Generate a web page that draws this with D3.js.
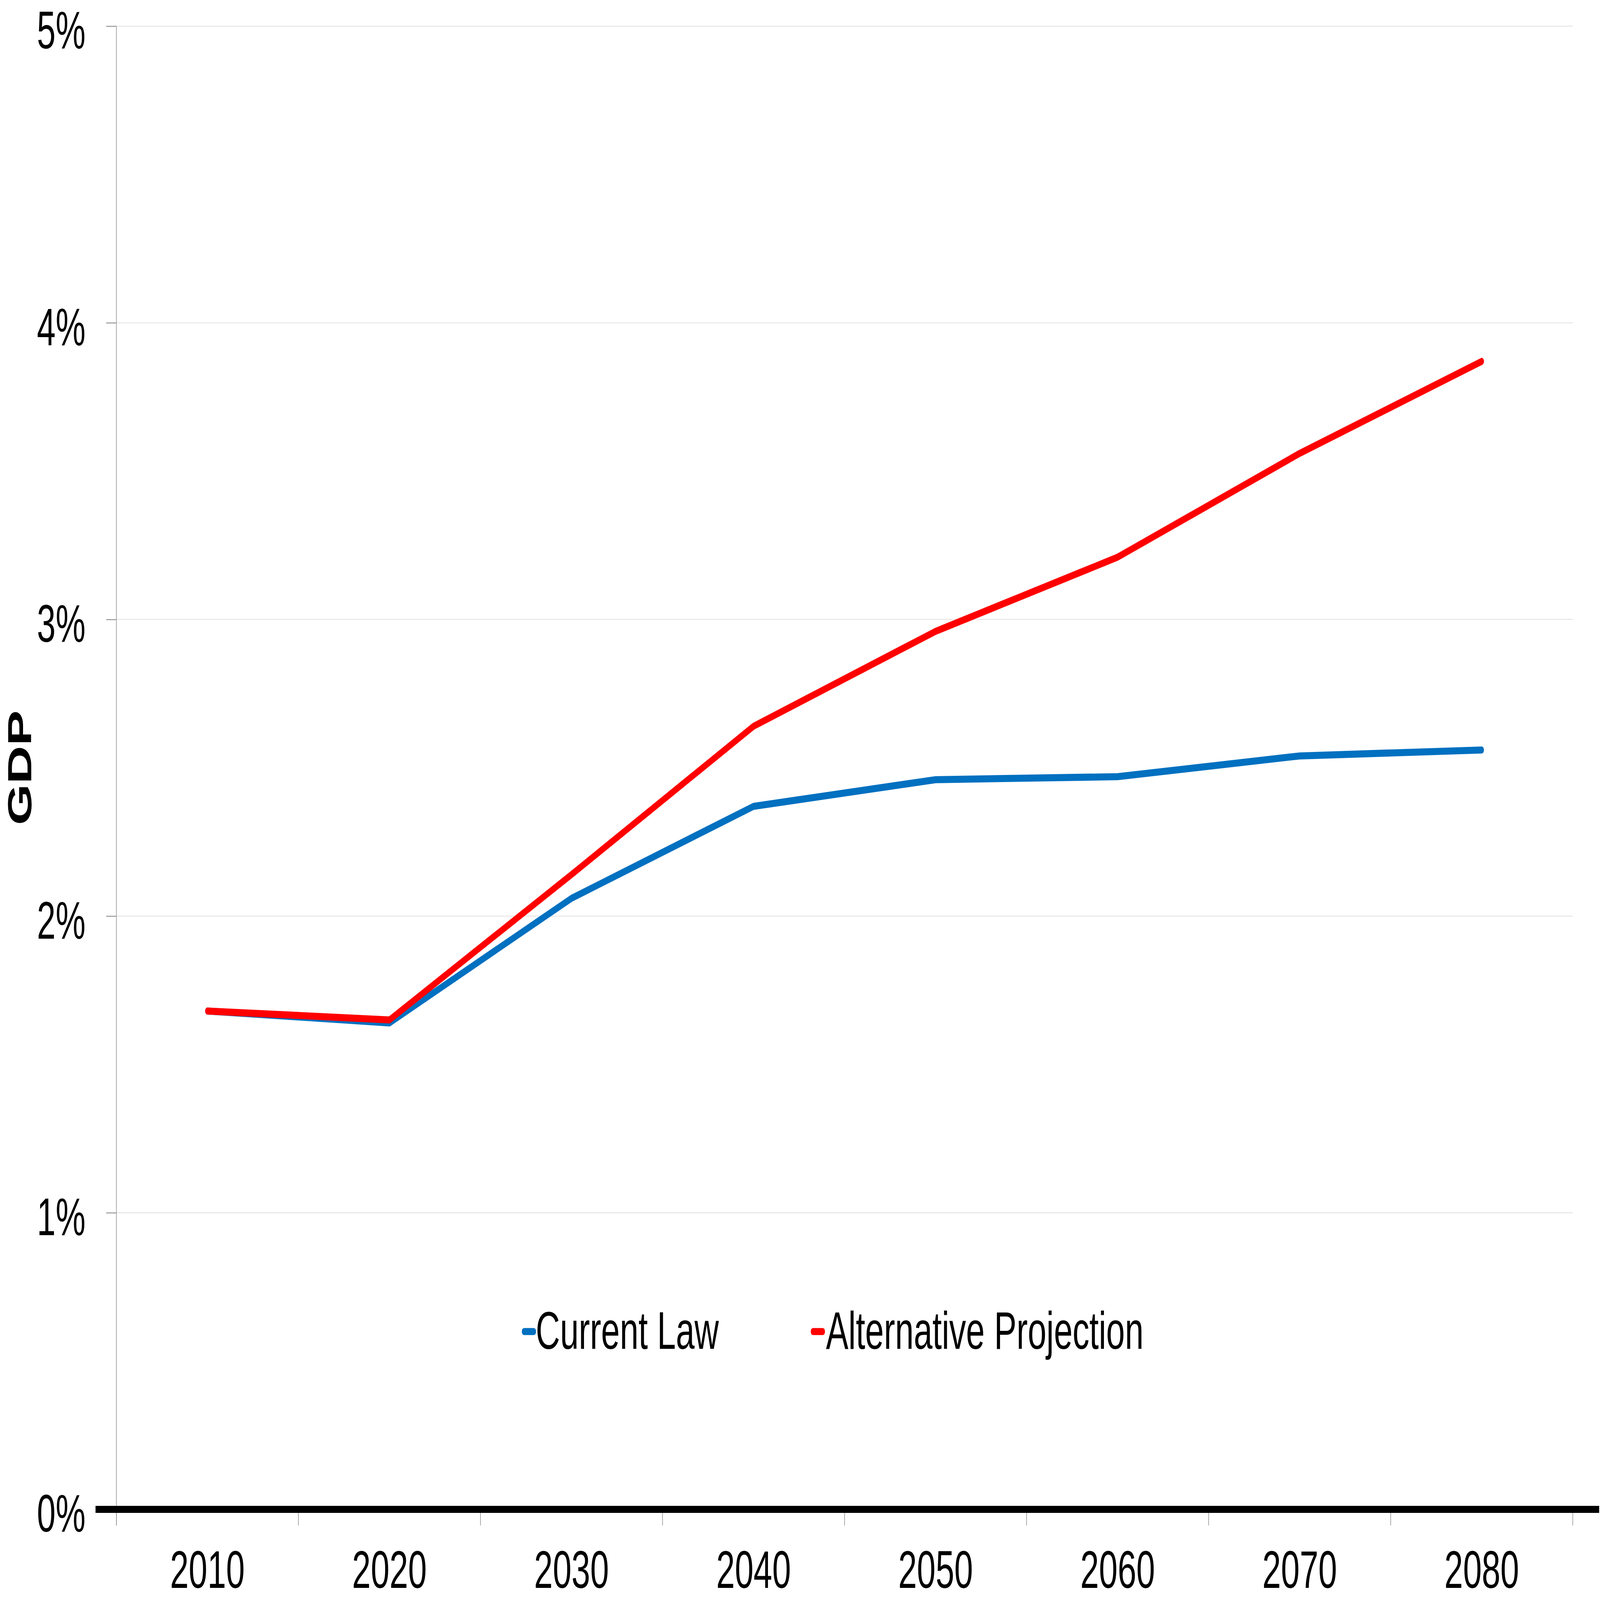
<!DOCTYPE html>
<html>
<head>
<meta charset="utf-8">
<script src="https://cdn.jsdelivr.net/npm/d3@7"></script>
<style>
  html, body { margin: 0; padding: 0; width: 100%; height: 100%; overflow: hidden; background: #fff; }
  svg { display: block; width: 100vw; height: 100vh; }
</style>
</head>
<body>
<svg></svg>
<script>
// years on the category axis
const years = ['2010', '2020', '2030', '2040', '2050', '2060', '2070', '2080']
// percent of GDP
const currentLaw = [1.68, 1.64, 2.06, 2.37, 2.46, 2.47, 2.54, 2.56]
const alternative = [1.68, 1.65, 2.14, 2.64, 2.96, 3.21, 3.56, 3.87]
const yTicks = [0, 1, 2, 3, 4, 5]
const seriesNames = ['Current Law', 'Alternative Projection']
const seriesColors = ['#0070C0', '#FF0000']

drawChart()

function drawChart() {
    let svgWidth = 7520, svgHeight = 4768
    let left = 547, right = 7392, top = 78, bottom = 4498
    let font = 'Arial, "Liberation Sans", sans-serif'

    // fixed coordinate system, scaled to whatever the window is
    let svg = d3.select('svg')
        .attr('viewBox', '0 0 ' + svgWidth + ' ' + svgHeight)
        .attr('preserveAspectRatio', 'none')

    let x = d3.scaleBand()
        .domain(years)
        .range([left, right])
    let y = d3.scaleLinear()
        .domain([0, 5])
        .range([bottom, top])

    // light gridlines
    svg.append('g')
        .selectAll('line')
        .data(yTicks.filter(d => d > 0))
        .enter().append('line')
        .attr('x1', left)
        .attr('x2', right)
        .attr('y1', d => y(d))
        .attr('y2', d => y(d))
        .attr('stroke', '#e6e6e6')
        .attr('stroke-width', 3)

    // y axis with outside ticks
    let yAxis = svg.append('g')
        .attr('transform', 'translate(' + left + ',0)')
        .call(d3.axisLeft(y).tickValues(yTicks).tickSize(48).tickPadding(97).tickFormat(d => d + '%'))
    yAxis.select('.domain').remove()
    yAxis.selectAll('.tick line')
        .attr('stroke', '#999')
        .attr('stroke-width', 3)
    yAxis.selectAll('.tick text')
        .attr('font-family', font)
        .attr('font-size', 158)
        .attr('fill', '#000')
        .attr('dy', '0.42em')
    svg.append('line')
        .attr('x1', left).attr('x2', left)
        .attr('y1', top).attr('y2', 4546)
        .attr('stroke', '#999')
        .attr('stroke-width', 3)

    // tick marks between categories
    let bounds = years.map(d => x(d)).concat([right])
    svg.append('g')
        .selectAll('line')
        .data(bounds)
        .enter().append('line')
        .attr('x1', d => d).attr('x2', d => d)
        .attr('y1', bottom).attr('y2', 4546)
        .attr('stroke', '#999')
        .attr('stroke-width', 3)

    // thick zero line
    svg.append('line')
        .attr('x1', 449).attr('x2', 7516)
        .attr('y1', bottom).attr('y2', bottom)
        .attr('stroke', '#000')
        .attr('stroke-width', 21)

    // category labels
    let xAxis = svg.append('g')
        .attr('transform', 'translate(0,' + bottom + ')')
        .call(d3.axisBottom(x).tickSize(0).tickPadding(122))
    xAxis.select('.domain').remove()
    xAxis.selectAll('.tick text')
        .attr('font-family', font)
        .attr('font-size', 158)
        .attr('fill', '#000')

    // axis title
    svg.append('text')
        .attr('transform', 'translate(147,2288) rotate(-90)')
        .attr('text-anchor', 'middle')
        .attr('font-family', font)
        .attr('font-size', 158)
        .attr('font-weight', 'bold')
        .text('GDP')

    let line = d3.line()
        .x((d, i) => x(years[i]) + x.bandwidth() / 2)
        .y(d => y(d))

    ;[currentLaw, alternative].forEach(function(values, i) {
        svg.append('path')
            .datum(values)
            .attr('fill', 'none')
            .attr('stroke', seriesColors[i])
            .attr('stroke-width', 21)
            .attr('stroke-linejoin', 'round')
            .attr('stroke-linecap', 'round')
            .attr('d', line)
    })

    // legend
    let legendX = [2463, 3821]
    seriesNames.forEach(function(name, i) {
        let g = svg.append('g')
            .attr('transform', 'translate(' + legendX[i] + ',3968)')
        g.append('line')
            .attr('x1', 0).attr('x2', 46)
            .attr('stroke', seriesColors[i])
            .attr('stroke-width', 21)
            .attr('stroke-linecap', 'round')
        g.append('text')
            .attr('x', i == 0 ? 55 : 61)
            .attr('y', 51)
            .attr('font-family', font)
            .attr('font-size', 158)
            .attr('fill', '#000')
            .text(name)
    })
}
</script>
</body>
</html>
